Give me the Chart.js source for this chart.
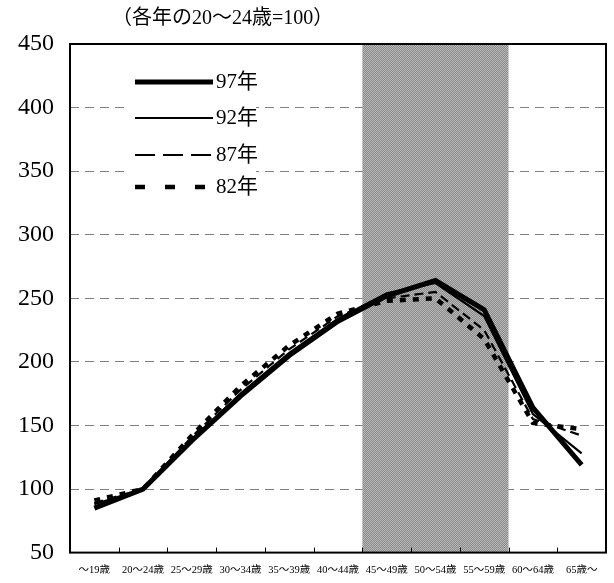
<!DOCTYPE html>
<html lang="ja">
<head>
<meta charset="utf-8">
<script src="https://cdn.jsdelivr.net/npm/chart.js@4"></script>
<style>
  html, body { margin: 0; padding: 0; background: #fff; }
</style>
</head>
<body>
<canvas id="ageChart" width="614" height="583"></canvas>
<script>
/* ---------- DATA ---------- */
const ageGroups = ["～19歳", "20～24歳", "25～29歳", "30～34歳", "35～39歳", "40～44歳",
                   "45～49歳", "50～54歳", "55～59歳", "60～64歳", "65歳～"];

const wage97 = [85, 100, 138, 173, 205, 232, 252, 264, 241, 164, 119];
const wage92 = [88, 100, 139, 175, 207, 234, 254, 262, 236, 159, 128];
const wage87 = [89, 100, 141, 178, 210, 236, 250, 255, 225, 155, 142];
const wage82 = [91, 100, 142, 181, 213, 238, 248, 250, 218, 152, 147];

const yearLabels = ["97年", "92年", "87年", "82年"];
const yMin = 50, yMax = 450, yStep = 50;

// age groups covered by the grey band
const bandFrom = "45～49歳";
const bandTo = "55～59歳";

const noteText = "（各年の20～24歳=100）";

const SERIF = '"Liberation Serif", "Noto Sans CJK JP", serif';

/* ---------- PLUGINS ---------- */
function greyPattern(ctx) {
  const c = document.createElement("canvas");
  c.width = 2; c.height = 2;
  const g = c.getContext("2d");
  g.fillStyle = "#8a8a8a";
  g.fillRect(0, 0, 2, 2);
  g.fillStyle = "#b8b8b8";
  g.fillRect(0, 0, 1, 1);
  g.fillRect(1, 1, 1, 1);
  return ctx.createPattern(c, "repeat");
}

const bandPlugin = {
  id: "band",
  beforeDatasetsDraw(chart) {
    const { ctx, chartArea, scales } = chart;
    const i0 = ageGroups.indexOf(bandFrom);
    const i1 = ageGroups.indexOf(bandTo);
    const left = scales.x.getPixelForValue(i0 - 0.5);
    const right = scales.x.getPixelForValue(i1 + 0.5);
    ctx.save();
    ctx.fillStyle = greyPattern(ctx);
    ctx.fillRect(left, chartArea.top, right - left, chartArea.bottom - chartArea.top);
    ctx.restore();
  }
};

const framePlugin = {
  id: "frame",
  afterDraw(chart) {
    const { ctx, chartArea, scales } = chart;
    ctx.save();
    ctx.strokeStyle = "#000";
    ctx.lineWidth = 2;
    ctx.strokeRect(chartArea.left, chartArea.top,
      chartArea.right - chartArea.left, chartArea.bottom - chartArea.top);

    // small ticks between age groups
    ctx.lineWidth = 1;
    for (let i = 1; i < ageGroups.length; i++) {
      const x = Math.round(scales.x.getPixelForValue(i - 0.5)) + 0.5;
      ctx.beginPath();
      ctx.moveTo(x, chartArea.bottom);
      ctx.lineTo(x, chartArea.bottom - 5);
      ctx.stroke();
    }

    // note above the frame
    ctx.fillStyle = "#000";
    ctx.font = "20px " + SERIF;
    ctx.textBaseline = "middle";
    ctx.textAlign = "left";
    ctx.fillText(noteText, 112, 19);
    ctx.restore();
  }
};

// legend sits inside the plot, top left
const legendPlugin = {
  id: "innerLegend",
  afterDraw(chart) {
    const { ctx } = chart;
    const rows = [82, 118, 155, 187];
    const dashes = [[], [], [20, 8], [10, 20]];
    ctx.save();
    ctx.fillStyle = "#fff";
    ctx.fillRect(128, 64, 128, 136);
    chart.data.datasets.forEach((ds, i) => {
      const y = rows[i];
      ctx.strokeStyle = "#000";
      ctx.lineWidth = ds.borderWidth;
      ctx.setLineDash(dashes[i]);
      ctx.lineCap = "butt";
      ctx.beginPath();
      ctx.moveTo(135, y);
      ctx.lineTo(213, y);
      ctx.stroke();
      ctx.setLineDash([]);
      ctx.fillStyle = "#000";
      ctx.font = "21px " + SERIF;
      ctx.textBaseline = "middle";
      ctx.fillText(ds.label, 216, y);
    });
    ctx.restore();
  }
};

/* ---------- CHART ---------- */
const series = [wage97, wage92, wage87, wage82];
const widths = [5, 2.2, 2.2, 4.5];
const lineDash = [[], [], [9, 5], [6, 7]];

new Chart(document.getElementById("ageChart"), {
  type: "line",
  data: {
    labels: ageGroups,
    datasets: series.map((d, i) => ({
      label: yearLabels[i],
      data: d,
      borderColor: "#000",
      borderWidth: widths[i],
      borderDash: lineDash[i],
      borderCapStyle: "butt",
      borderJoinStyle: "miter",
      pointRadius: 0,
      tension: 0,
      fill: false
    }))
  },
  options: {
    responsive: false,
    animation: false,
    layout: { padding: { top: 44, right: 8, left: 0, bottom: 0 } },
    plugins: {
      legend: { display: false },
      tooltip: { enabled: false }
    },
    scales: {
      x: {
        offset: true,
        grid: { display: false },
        border: { display: false },
        ticks: {
          color: "#000",
          font: { family: SERIF, size: 10.5 },
          maxRotation: 0,
          autoSkip: false,
          padding: 3
        },
        afterFit(s) { s.height = 21; }
      },
      y: {
        min: yMin,
        max: yMax,
        ticks: {
          stepSize: yStep,
          color: "#000",
          font: { family: SERIF, size: 24 },
          padding: 16
        },
        grid: { color: "#808080", lineWidth: 1, drawTicks: false },
        border: { display: false, dash: [9, 6] },
        afterFit(s) { s.width = 70; }
      }
    }
  },
  plugins: [bandPlugin, framePlugin, legendPlugin]
});
</script>
</body>
</html>
